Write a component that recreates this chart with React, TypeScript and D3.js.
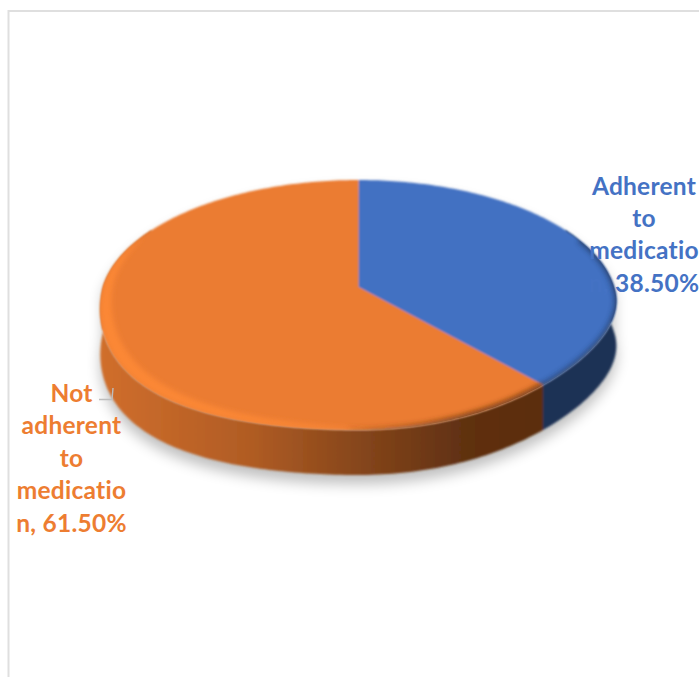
import React from "react";
import * as d3 from "d3";

const categories = ["Adherent to medication", "Not adherent to medication"];
const shares = [38.5, 61.5];
const topColors = ["#4271C2", "#EB7B30"];
const labelColors = ["#4472C4", "#ED7D31"];
const labelLines = [
  ["Adherent", "to", "medicatio", "n, 38.50%"],
  ["Not", "adherent", "to", "medicatio", "n, 61.50%"],
];

const W = 699;
const H = 677;
const FONT = "Lato, Carlito, sans-serif";

// Tilted disc: a circle seen in perspective, so the centre sits above the ellipse's middle.
const APEX_X = 358.5;
const APEX_Y = 287;
const TILT = 0.144;
const SCALE_Y = 122.4;
const SCALE_X = 255.5;
const DEPTH = 45;
// The front edge bulges a little on the left and pulls in a little on the right.
const FRONT_LEFT_BULGE = 30;
const FRONT_RIGHT_PULL = 15;
const FRONT_RIGHT_NARROW = 20;

const pieAngles = d3.pie<number>().sort(null)(shares);

function disc(theta: number, r = 1, dy = 0): [number, number] {
  const u = Math.sin(theta) * r;
  const v = -Math.cos(theta) * r;
  const w = 1 - TILT * v;
  const fv = Math.max(0, v);
  const front = u * u * fv;
  const yBend = u < 0 ? front * FRONT_LEFT_BULGE : -front * FRONT_RIGHT_PULL;
  const xBend = u > 0 ? -front * fv * FRONT_RIGHT_NARROW : 0;
  return [APEX_X + (SCALE_X * u) / w + xBend, APEX_Y + (SCALE_Y * v) / w + yBend + dy];
}

const line = d3.line<[number, number]>();
const rad = (deg: number) => (deg * Math.PI) / 180;

function arcPoints(a0: number, a1: number, r = 1, dy = 0): [number, number][] {
  const n = Math.max(2, Math.ceil(Math.abs(a1 - a0) / rad(1)));
  return d3.range(n + 1).map((i) => disc(a0 + ((a1 - a0) * i) / n, r, dy));
}

function slicePath(a0: number, a1: number) {
  return line([[APEX_X, APEX_Y], ...arcPoints(a0, a1)])! + "Z";
}

function wallPath(a0: number, a1: number) {
  return line([...arcPoints(a0, a1), ...arcPoints(a1, a0, 1, DEPTH)])! + "Z";
}

function crescent(a0: number, a1: number, inset: number) {
  const n = 120;
  const outer = arcPoints(a0, a1);
  const inner = d3.range(n + 1).map((i) => {
    const t = i / n;
    return disc(a0 + (a1 - a0) * t, 1 - inset * Math.pow(Math.sin(Math.PI * t), 0.6));
  });
  return line([...outer, ...inner.reverse()])! + "Z";
}

const wholeTop = line(arcPoints(0, 2 * Math.PI))! + "Z";
const outline = line([
  ...arcPoints(rad(-90), rad(90)),
  ...arcPoints(rad(90), rad(270), 1, DEPTH),
])! + "Z";

const split = pieAngles[0].endAngle;
const wallStops: [number, string][] = [
  [0, "#d06e2c"],
  [0.34, "#b05c24"],
  [0.56, "#8a481c"],
  [0.83, "#5f3011"],
  [1, "#5c2e10"],
];

export default function App() {
  return (
    <svg
      width={W}
      height={H}
      viewBox={`0 0 ${W} ${H}`}
      style={{ position: "absolute", left: 0, top: 0, display: "block" }}
    >
      <defs>
        <filter id="drop" x="-20%" y="-20%" width="140%" height="140%">
          <feGaussianBlur stdDeviation="7" />
        </filter>
        <filter id="soft" x="-5%" y="-5%" width="110%" height="110%">
          <feGaussianBlur stdDeviation="1" />
        </filter>
        <filter
          id="glow"
          filterUnits="userSpaceOnUse"
          x={0}
          y={0}
          width={W}
          height={H}
        >
          <feGaussianBlur stdDeviation="2.6" />
        </filter>
        <linearGradient id="sideShade" gradientUnits="userSpaceOnUse" x1={101} x2={543} y1={0} y2={0}>
          {wallStops.map(([o, c]) => (
            <stop key={o} offset={o} stopColor={c} />
          ))}
        </linearGradient>
        <linearGradient id="rimFade" gradientUnits="userSpaceOnUse" x1={330} x2={470} y1={0} y2={0}>
          <stop offset={0} stopColor="#6a3512" stopOpacity={0} />
          <stop offset={1} stopColor="#6a3512" stopOpacity={0.8} />
        </linearGradient>
        <clipPath id="topClip">
          <path d={wholeTop} />
        </clipPath>
      </defs>

      <rect width={W} height={H} fill="#ffffff" />
      <path d={`M8.5 677V11H699`} fill="none" stroke="#dfdfdf" strokeWidth={2} />

      {/* Ground shadow */}
      <path d={outline} transform="translate(0 9)" fill="#000" opacity={0.25} filter="url(#drop)" />

      {/* Disc side */}
      <g filter="url(#soft)">
        <path d={wallPath(split, rad(300))} fill="url(#sideShade)" />
        <path d={wallPath(rad(60), split)} fill="#1b3054" />
      </g>

      {/* Disc top */}
      <g filter="url(#soft)">
        {pieAngles.map((p, i) => (
          <path
            key={categories[i]}
            d={slicePath(p.startAngle, p.endAngle)}
            fill={topColors[i]}
          />
        ))}
      </g>

      {/* Bevel shading along the rim */}
      <g clipPath="url(#topClip)">
        <path d={crescent(rad(178), rad(296), 0.05)} fill="#fb8736" filter="url(#glow)" />
        <path
          d={line(arcPoints(rad(138.6), rad(182)))!}
          fill="none"
          stroke="url(#rimFade)"
          strokeWidth={6}
          filter="url(#glow)"
        />
        <path
          d={line(arcPoints(rad(66), rad(138.6)))!}
          fill="none"
          stroke="#1b3054"
          strokeWidth={5}
          opacity={0.6}
          filter="url(#glow)"
        />
      </g>

      {/* Leader for the left label */}
      <path d="M99 399.5H112L113 388" fill="none" stroke="#bdbdbd" strokeWidth={1.4} />

      {/* Data labels */}
      <g fontFamily={FONT} fontWeight={700} fontSize={24.5} letterSpacing={0.25} textAnchor="middle">
        {labelLines[0].map((t, i) => (
          <text key={i} x={644} y={195 + i * 32.2} fill={labelColors[0]}>
            {t}
          </text>
        ))}
        {labelLines[1].map((t, i) => (
          <text key={i} x={71.5} y={402 + i * 32.4} fill={labelColors[1]}>
            {t}
          </text>
        ))}
      </g>
    </svg>
  );
}
